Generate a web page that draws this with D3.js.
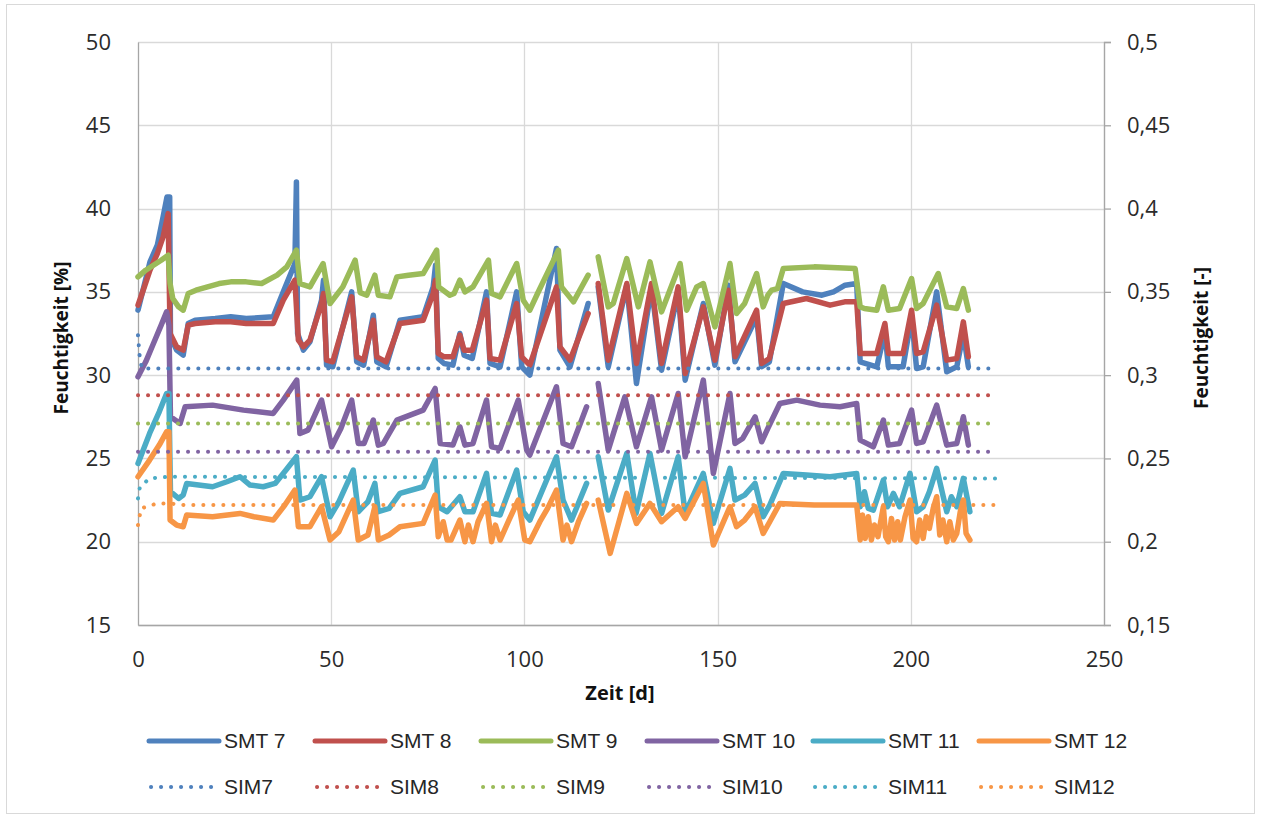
<!DOCTYPE html>
<html>
<head>
<meta charset="utf-8">
<script src="https://cdn.jsdelivr.net/npm/d3@7"></script>
<style>
  html, body { margin: 0; padding: 0; background: #fff; }
  svg { display: block; }
  .tick text { font-family: "Open Sans", "Liberation Sans", sans-serif; font-size: 22px; fill: #2b2b2b; }
</style>
</head>
<body>
<svg id="chart" width="1261" height="818"></svg>
<script>
// ---------- DATA ----------
const xTicks = [0, 50, 100, 150, 200, 250];
const leftTicks = [15, 20, 25, 30, 35, 40, 45, 50];
const rightTicks = [0.15, 0.2, 0.25, 0.3, 0.35, 0.4, 0.45, 0.5];

const seriesNames = ["SMT 7", "SMT 8", "SMT 9", "SMT 10", "SMT 11", "SMT 12"];
const simNames = ["SIM7", "SIM8", "SIM9", "SIM10", "SIM11", "SIM12"];
const colors = ["#4F81BD", "#C0504D", "#9BBB59", "#8064A2", "#4BACC6", "#F79646"];

// [day, moisture %]; null marks the data gap
const smt7 = [[0,33.9],[1.5,35.3],[3.1,36.8],[5,37.8],[6.5,39.5],[7.5,40.7],[8.2,40.7],[8.4,32.3],[10,31.5],[11.7,31.2],[13,33.1],[14.8,33.3],[20,33.4],[24,33.5],[28,33.4],[35,33.5],[37.6,35.0],[40.6,36.7],[41.0,41.6],[41.3,32.5],[42.8,31.5],[44.5,32.0],[47.5,34.5],[48,35.7],[48.8,30.6],[50.4,30.5],[55.3,35.0],[56.6,30.8],[58.4,30.6],[60.9,33.6],[61.8,30.8],[64.2,30.5],[67.8,33.3],[73.8,33.5],[76.4,35.3],[77,36.6],[77.7,31.0],[79.2,30.7],[81.5,30.6],[83.3,32.5],[84.4,31.2],[86.5,31.0],[90.2,35.0],[91.1,30.7],[93.7,30.5],[98,35.0],[99.3,30.5],[101.4,30.0],[108.3,37.6],[109.2,31.5],[111.8,30.5],[116.5,34.3],null,[119.1,35.3],[121.7,30.5],[126.5,35.4],[129,29.5],[132.9,35.3],[135.5,30.3],[139.8,35.0],[141.6,29.7],[146.3,34.3],[149.3,30.6],[152.8,35.4],[154.5,30.8],[160.1,33.5],[161.4,30.5],[163.4,30.8],[167,35.5],[172,35.0],[177,34.8],[180,35.0],[183,35.4],[186,35.5],[186.9,30.8],[191.2,30.5],[193.3,32.6],[194.2,30.5],[198,30.5],[200.2,33.5],[201.5,30.4],[203.2,30.5],[206.7,35.0],[209.3,30.2],[211.9,30.5],[213.6,32.5],[214.9,30.5]];

const smt8 = [[0,34.2],[1.5,35.2],[3.1,36.3],[5,37.3],[6.5,38.3],[7.8,39.7],[8.3,32.5],[10,31.7],[11.7,31.5],[13,33.0],[14.8,33.1],[20,33.2],[24,33.2],[28,33.1],[35,33.1],[37.6,34.5],[40.6,35.7],[41.5,32.1],[42.8,31.7],[44.5,32.1],[47.5,34.3],[48,34.9],[48.8,30.9],[50.4,30.8],[55.3,34.7],[56.6,31.1],[58.4,30.9],[60.9,33.3],[61.8,31.1],[64.2,30.8],[67.8,33.1],[73.8,33.3],[76.4,34.9],[77,35.7],[77.7,31.3],[79.2,31.1],[81.5,31.1],[83.3,32.4],[84.4,31.5],[86.5,31.5],[90.2,34.5],[91.1,31.0],[93.7,30.9],[98,34.3],[99.3,31.1],[101.4,30.6],[108.3,35.3],[109.2,31.7],[111.8,30.9],[116.5,33.7],null,[119.1,35.5],[121.7,30.9],[126.5,35.5],[129,30.7],[132.9,35.5],[135.5,30.7],[139.8,35.3],[141.6,30.1],[146.3,34.1],[149.3,30.9],[152.8,35.1],[154.5,31.1],[160.1,33.9],[161.4,30.7],[163.4,31.0],[167,34.3],[173,34.6],[179.1,34.2],[182.9,34.4],[186,34.4],[186.9,31.3],[191.2,31.3],[193.3,33.1],[194.2,31.3],[198,31.3],[200.2,33.9],[201.5,31.3],[203.2,31.4],[206.7,34.2],[209.3,30.9],[211.9,31.0],[213.6,33.2],[214.9,31.1]];

const smt9 = [[0,35.9],[2,36.3],[4,36.6],[6,36.9],[7.8,37.2],[8.3,35.5],[9,34.6],[10.5,34.1],[11.7,33.9],[13,34.9],[15,35.1],[18,35.3],[21,35.5],[24,35.6],[28,35.6],[32,35.5],[36,36.0],[38.5,36.5],[41,37.5],[41.9,35.5],[44.5,35.3],[47.9,36.7],[49.7,34.3],[53,35.3],[56.2,36.9],[57.5,34.95],[59.2,34.8],[61.3,36.0],[62.2,34.8],[65.2,34.7],[67,35.9],[70,36.0],[73.8,36.1],[77.3,37.5],[77.8,35.3],[80.7,34.8],[81.8,34.9],[83.3,35.7],[84.6,35.0],[86.7,35.3],[90.7,36.9],[91.5,34.9],[93.7,34.7],[98,36.7],[99.7,34.5],[101.4,33.9],[103.4,34.9],[108.8,37.5],[109.6,35.3],[112.7,34.4],[116.5,36.0],null,[119.1,37.1],[121.7,34.1],[123,34.3],[126.5,37.0],[129.5,34.1],[132.5,36.8],[135.5,33.8],[140.3,36.7],[142,33.9],[144.6,35.3],[146.3,35.5],[149.3,32.9],[153.2,36.7],[154.9,33.7],[157,34.3],[160.1,36.1],[161.8,34.1],[163,34.8],[164,35.1],[165.5,35.2],[167,36.4],[175,36.5],[185.6,36.4],[186.9,34.1],[188,34.0],[191.2,33.9],[192.9,35.3],[194.2,33.9],[197.1,34.0],[200.2,35.8],[201.5,34.0],[203.2,34.3],[207.1,36.1],[209.3,34.1],[211.9,34.0],[213.6,35.2],[214.9,33.9]];

const smt10 = [[0,29.9],[2,30.8],[4,31.9],[6,33.0],[7.4,33.8],[8.0,33.0],[8.4,27.5],[10.9,27.1],[12.2,28.1],[19.3,28.2],[27.3,27.9],[35,27.7],[37.6,28.5],[41.1,29.7],[41.9,26.5],[44,26.7],[47.5,28.5],[50.1,25.7],[52.5,26.8],[55.3,28.5],[57,25.9],[58.5,25.9],[60.9,27.3],[62.2,25.8],[63.5,25.9],[67,27.3],[73.8,27.9],[76.9,29.2],[78.2,25.9],[81.5,25.8],[83.3,26.9],[84.6,25.8],[86.7,25.9],[90.2,28.5],[91.5,25.7],[93.7,25.6],[98.4,28.5],[100.6,25.5],[101.4,25.2],[108.3,29.3],[110,25.9],[112.2,25.7],[116.1,28.1],null,[119.1,29.5],[121.7,25.5],[126,28.7],[129,25.7],[132.9,28.7],[135.5,25.5],[139.8,28.9],[141.6,25.1],[146.3,29.7],[148.9,24.1],[153.2,28.9],[154.5,25.9],[156.5,26.2],[159.7,27.5],[161.4,26.0],[163,26.8],[166.1,28.3],[170.5,28.5],[176.5,28.2],[181.7,28.1],[186,28.3],[186.9,26.1],[190.3,25.7],[192.9,27.3],[194.2,25.8],[197.1,25.9],[200.2,27.9],[201.5,25.9],[203.2,26.0],[206.7,28.2],[209.3,25.8],[211.9,25.9],[213.6,27.5],[214.9,25.8]];

const smt11 = [[0,24.7],[3,26.5],[5.5,27.8],[7.4,28.9],[8.0,28.9],[8.4,23.0],[10.5,22.6],[11.7,22.8],[12.6,23.5],[19.3,23.3],[23,23.6],[26.4,23.9],[29,23.4],[32.4,23.3],[35.5,23.5],[38.3,24.3],[41,25.1],[41.9,22.5],[44.5,22.7],[47.5,23.9],[49.7,21.5],[52,22.4],[55.7,24.3],[57,21.8],[59.5,22.4],[61.3,23.5],[62.2,21.8],[65,22.0],[67.8,22.9],[73.8,23.3],[76.9,24.9],[77.7,22.1],[80,21.8],[83.3,22.7],[84.6,21.8],[86.7,21.8],[90.2,24.1],[91.5,21.7],[93.7,21.6],[98,24.3],[99.7,21.8],[101.4,21.3],[108.3,25.1],[110,22.5],[112.2,21.3],[116.1,23.5],null,[119.1,25.1],[121.7,21.9],[126.5,25.3],[128.9,21.7],[132.5,25.3],[135.5,21.7],[139.8,25.1],[141.6,21.7],[146.3,24.1],[148.9,21.1],[153.2,24.4],[154.5,22.5],[157,22.8],[159.7,23.5],[161.8,21.5],[163.5,22.2],[167,24.1],[173,24.0],[179.1,23.9],[186,24.1],[186.9,22.1],[188,23.0],[189,22.0],[190.3,21.9],[192.9,23.7],[194,22.1],[195.5,22.9],[197.1,22.1],[199.8,24.1],[201.5,21.8],[203.2,22.1],[204.8,23.0],[206.7,24.4],[209.3,21.8],[210.5,22.7],[211.9,22.1],[213.6,23.8],[215.3,21.8]];

const smt12 = [[0,23.9],[3,24.9],[5.5,25.8],[7.4,26.6],[8.0,26.6],[8.3,21.3],[10,21.0],[11.7,20.9],[12.6,21.6],[19.3,21.5],[26.4,21.7],[30,21.5],[35,21.3],[38,22.2],[40.6,23.1],[41.5,20.9],[44.5,20.9],[47.5,22.1],[49.7,20.1],[52,20.6],[55.7,22.5],[57,20.1],[59.5,20.4],[61.3,22.1],[62.2,20.1],[65,20.4],[67.8,20.9],[73.8,21.1],[76.9,22.8],[77.7,20.3],[79,21.2],[80,20.1],[81,20.1],[83.3,21.3],[84.6,20.0],[85.5,21.0],[86.7,20.0],[88,21.2],[90.2,22.3],[91.5,20.0],[92.5,21.0],[93.7,20.1],[96,21.3],[98.4,22.5],[100.1,20.1],[101.4,20.0],[104,21.2],[106,22.0],[108.3,23.1],[110,20.1],[111,21.0],[112.2,20.0],[114,21.2],[116.1,22.3],null,[119.1,22.5],[122.2,19.3],[126.5,22.9],[129,21.1],[132.5,22.3],[135.5,21.2],[139.8,22.1],[141.6,21.4],[146.3,23.5],[148.9,19.8],[153.2,22.1],[154.9,20.9],[157,21.3],[159.7,22.1],[161.8,20.5],[163.5,21.2],[166.1,22.3],[175,22.2],[186,22.2],[186.9,20.1],[187.5,21.6],[188.2,20.2],[189,21.5],[189.8,20.1],[190.6,21.0],[191.5,20.3],[192.9,22.1],[193.5,20.3],[194.2,20.0],[195,21.4],[195.8,20.1],[196.6,21.2],[197.3,20.1],[198.5,21.5],[199.8,22.5],[200.6,20.2],[201.5,20.0],[202.3,21.3],[203.2,20.2],[204,21.5],[204.8,20.8],[205.8,22.0],[206.7,22.7],[207.5,20.4],[208.3,21.3],[209.3,20.0],[210.1,21.2],[211,20.1],[211.9,20.5],[212.8,21.8],[213.6,22.5],[214.3,20.5],[215.3,20.1]];

const sim7 = [[0,32.4],[0.4,31.2],[1,30.4],[222,30.4]];
const sim8 = [[0,28.8],[222,28.8]];
const sim9 = [[0,27.1],[222,27.1]];
const sim10 = [[0,25.4],[222,25.4]];
const sim11 = [[0,22.6],[0.5,23.3],[3,23.8],[8,23.9],[222,23.8]];
const sim12 = [[0,21.0],[0.8,22.0],[5,22.3],[8,22.3],[12,22.2],[222,22.2]];

const smtData = [smt7, smt8, smt9, smt10, smt11, smt12];
const simData = [sim7, sim8, sim9, sim10, sim11, sim12];

// ---------- CHART ----------
const svg = d3.select("#chart");
const W = 1261, H = 818;
const plot = { left: 138, right: 1104, top: 42, bottom: 625 };

svg.append("rect").attr("x", 6.5).attr("y", 4.5).attr("width", W - 13).attr("height", H - 9)
  .attr("fill", "#fff").attr("stroke", "#d9d9d9");

const x = d3.scaleLinear().domain([0, 250]).range([plot.left, plot.right]);
const y = d3.scaleLinear().domain([15, 50]).range([plot.bottom, plot.top]);
const yR = d3.scaleLinear().domain([0.15, 0.5]).range([plot.bottom, plot.top]);

// gridlines
const grid = svg.append("g");
grid.selectAll(".hg").data(leftTicks).join("line")
  .attr("x1", plot.left).attr("x2", plot.right)
  .attr("y1", d => Math.round(y(d)) + 0.5).attr("y2", d => Math.round(y(d)) + 0.5)
  .attr("stroke", "#d9d9d9").attr("stroke-width", 1.3);
grid.selectAll(".vg").data(xTicks.slice(1)).join("line")
  .attr("x1", d => Math.round(x(d)) + 0.5).attr("x2", d => Math.round(x(d)) + 0.5)
  .attr("y1", plot.top).attr("y2", plot.bottom)
  .attr("stroke", "#d9d9d9").attr("stroke-width", 1.3);

// axes
const axL = svg.append("g").attr("transform", `translate(${plot.left},0)`)
  .call(d3.axisLeft(y).tickValues(leftTicks).tickSize(0).tickPadding(27));
axL.select(".domain").attr("stroke", "#a6a6a6").attr("stroke-width", 1.3);

const axB = svg.append("g").attr("transform", `translate(0,${plot.bottom})`)
  .call(d3.axisBottom(x).tickValues(xTicks).tickSize(0).tickPadding(26));
axB.select(".domain").attr("stroke", "#a6a6a6").attr("stroke-width", 1.3);

const fmtR = d => d3.format(".2~f")(d).replace(".", ",");
const axR = svg.append("g").attr("transform", `translate(${plot.right},0)`)
  .call(d3.axisRight(yR).tickValues(rightTicks).tickSize(7).tickPadding(16).tickFormat(fmtR));
axR.select(".domain").attr("stroke", "#a6a6a6").attr("stroke-width", 1.3);
axR.selectAll(".tick line").attr("stroke", "#a6a6a6").attr("stroke-width", 1.3);

// axis titles
const titleFont = "'Open Sans', 'Liberation Sans', sans-serif";
svg.append("text").attr("transform", "translate(68,338) rotate(-90)")
  .attr("text-anchor", "middle").attr("font-family", titleFont).attr("font-weight", "bold")
  .attr("font-size", 19).attr("fill", "#111").text("Feuchtigkeit [%]");
svg.append("text").attr("transform", "translate(1208,338) rotate(-90)")
  .attr("text-anchor", "middle").attr("font-family", titleFont).attr("font-weight", "bold")
  .attr("font-size", 19).attr("fill", "#111").text("Feuchtigkeit [-]");
svg.append("text").attr("x", 620).attr("y", 700)
  .attr("text-anchor", "middle").attr("font-family", titleFont).attr("font-weight", "bold")
  .attr("font-size", 20).attr("fill", "#111").text("Zeit [d]");

// lines
const line = d3.line().defined(d => d !== null).x(d => x(d[0])).y(d => y(d[1]));
const lines = svg.append("g");
smtData.forEach((s, i) => {
  lines.append("path").datum(s).attr("d", line)
    .attr("fill", "none").attr("stroke", colors[i]).attr("stroke-width", 5.5)
    .attr("stroke-linejoin", "round").attr("stroke-linecap", "round");
});
simData.forEach((s, i) => {
  lines.append("path").datum(s).attr("d", line)
    .attr("fill", "none").attr("stroke", colors[i]).attr("stroke-width", 4)
    .attr("stroke-dasharray", "0.1 9.9").attr("stroke-linecap", "round");
});

// legend
const legFont = "'Liberation Sans', 'Arial', sans-serif";
const legX0 = 149, legStep = 166;
const leg = svg.append("g");
seriesNames.forEach((n, i) => {
  const lx = legX0 + i * legStep;
  leg.append("line").attr("x1", lx).attr("x2", lx + 70).attr("y1", 741).attr("y2", 741)
    .attr("stroke", colors[i]).attr("stroke-width", 5).attr("stroke-linecap", "round");
  leg.append("text").attr("x", lx + 75).attr("y", 748).attr("font-family", legFont)
    .attr("font-size", 21).attr("fill", "#262626").text(n);
});
simNames.forEach((n, i) => {
  const lx = legX0 + i * legStep;
  leg.append("line").attr("x1", lx + 2).attr("x2", lx + 70).attr("y1", 787).attr("y2", 787)
    .attr("stroke", colors[i]).attr("stroke-width", 4).attr("stroke-linecap", "round")
    .attr("stroke-dasharray", "0.1 9.9");
  leg.append("text").attr("x", lx + 75).attr("y", 794).attr("font-family", legFont)
    .attr("font-size", 21).attr("fill", "#262626").text(n);
});
</script>
</body>
</html>
